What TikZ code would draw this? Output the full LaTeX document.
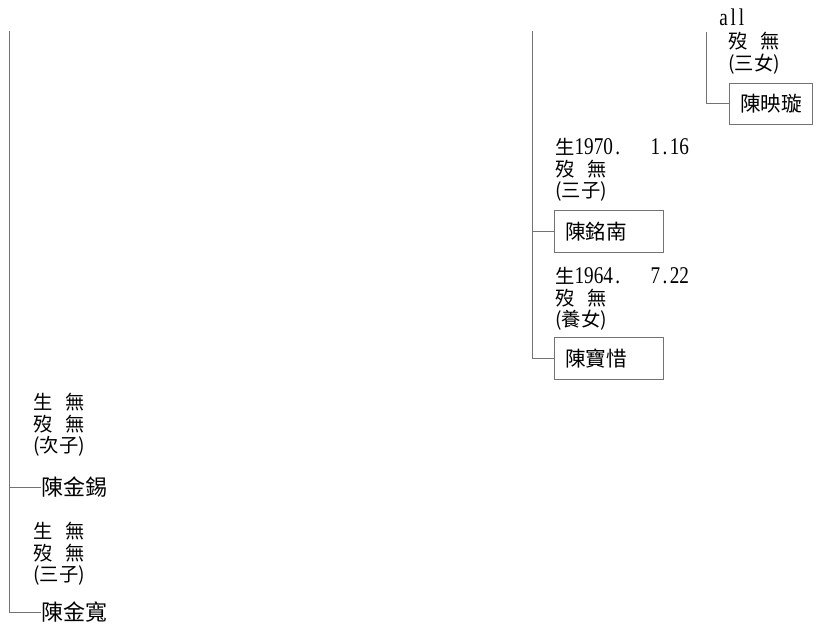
\documentclass[tikz,border=0pt]{standalone}
\usepackage{fontspec}
\setmainfont{Liberation Serif}
\setmonofont{Liberation Mono}
\newfontfamily\cjk{Noto Sans CJK TC}
\newfontfamily\latin[FakeStretch=0.8]{Liberation Serif}
\usetikzlibrary{positioning}
\definecolor{linecol}{gray}{0.45}
\newcommand\notefont{\cjk\fontsize{14.5}{16.2}\selectfont}
\newcommand\namefont{\cjk\fontsize{15.5}{17}\selectfont}
\newcommand\digits[1]{{\latin\fontsize{18}{16.2}\selectfont #1}}
\newcommand\dotsp{\kern1.8pt.\kern1.8pt}

\begin{document}
\begin{tikzpicture}[x=0.75pt,y=-0.75pt,
  namebox/.style={draw=linecol,font=\namefont,anchor=north west,inner xsep=8.25pt,
    text width=65.25pt,minimum height=31.5pt,align=left},
  namebare/.style={font=\cjk\fontsize{16.5}{18}\selectfont,anchor=west,inner sep=0pt},
  note/.style={font=\notefont,align=left,anchor=north west,inner sep=0pt},
  link/.style={draw=linecol,line width=0.75pt}]
\useasboundingbox (0,0) rectangle (827,626);
% right branch
\node[note] (allnote) at (719,9) {\digits{a\kern2.2pt l\kern2.2pt l}};
\coordinate (topR) at (706,32);
\node[note] (noteR) at (728,32) {歿\hspace{10pt}無\\(三女)};
\node[namebox,text width=45.75pt,minimum height=30.75pt] (yingxuan) at (729,83) {陳映璇};
\draw[link] (topR) |- (yingxuan.west);
% middle branch
\coordinate (topM) at (532.5,31);
\node[note] (noteM1) at (555,138) {生\digits{1970\dotsp}\hspace{21pt}\digits{1\dotsp 16}\\歿\hspace{10pt}無\\(三子)};
\node[namebox] (mingnan) at (554,210) {陳銘南};
\node[note] (noteM2) at (555,267) {生\digits{1964\dotsp}\hspace{21pt}\digits{7\dotsp 22}\\歿\hspace{10pt}無\\(養女)};
\node[namebox] (baoxi) at (554,337) {陳寶惜};
\draw[link] (topM) |- (baoxi.west);
\draw[link] (topM |- mingnan.west) -- (mingnan.west);
% left branch
\coordinate (topL) at (9.5,31);
\node[note] (noteL1) at (33,393) {生\hspace{10pt}無\\歿\hspace{10pt}無\\(次子)};
\node[namebare] (jinxi) at (41,487) {陳金錫};
\node[note] (noteL2) at (33,522) {生\hspace{10pt}無\\歿\hspace{10pt}無\\(三子)};
\node[namebare] (jinkuan) at (41,612) {陳金寬};
\draw[link] (topL) |- (jinkuan.west);
\draw[link] (topL |- jinxi.west) -- (jinxi.west);
\end{tikzpicture}
\end{document}
